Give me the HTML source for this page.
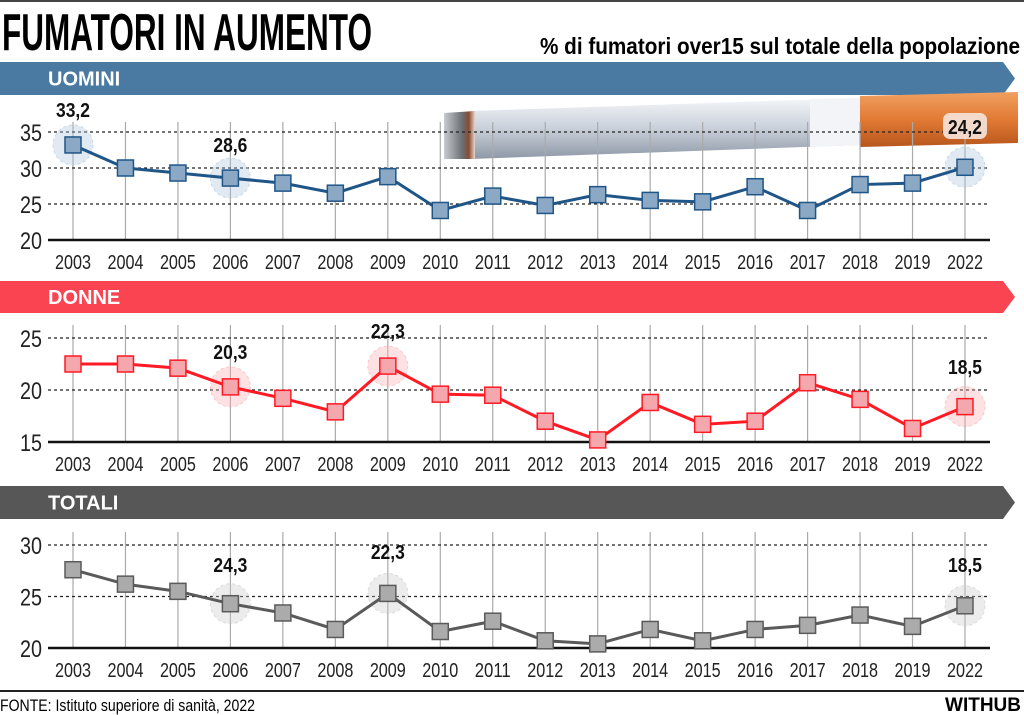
<!DOCTYPE html>
<html><head><meta charset="utf-8"><style>
body{margin:0;background:#fff;}
svg{display:block;font-family:"Liberation Sans",sans-serif;}
</style></head><body>
<svg id="c" width="1024" height="715" viewBox="0 0 1024 715">
<defs>
<linearGradient id="paper" x1="0" y1="0" x2="0" y2="1"><stop offset="0" stop-color="#f4f6f9"/><stop offset="0.5" stop-color="#c9d0da"/><stop offset="1" stop-color="#8e98a6"/></linearGradient>
<linearGradient id="filt" x1="0" y1="0" x2="0" y2="1"><stop offset="0" stop-color="#f0a060"/><stop offset="0.5" stop-color="#e27a34"/><stop offset="1" stop-color="#b8561c"/></linearGradient>
<linearGradient id="ash" x1="0" y1="0" x2="1" y2="0"><stop offset="0" stop-color="#c8ccd0"/><stop offset="0.6" stop-color="#6a6e72"/><stop offset="0.8" stop-color="#8a4a30"/><stop offset="1" stop-color="#e6d8d0"/></linearGradient>
</defs>
<line x1="0" y1="1" x2="1024" y2="1" stroke="#444" stroke-width="2"/>
<text x="2" y="50" font-size="52" font-weight="bold" textLength="370" lengthAdjust="spacingAndGlyphs">FUMATORI IN AUMENTO</text>
<text x="540" y="54" font-size="23" font-weight="bold" textLength="480" lengthAdjust="spacingAndGlyphs">% di fumatori over15 sul totale della popolazione</text>
<g id="panels"></g>
<line x1="0" y1="691" x2="1024" y2="691" stroke="#222" stroke-width="2"/>
<text x="0" y="711" font-size="17" textLength="255" lengthAdjust="spacingAndGlyphs">FONTE: Istituto superiore di sanità, 2022</text>
<text x="1021" y="711" text-anchor="end" font-size="19" font-weight="bold">WITHUB</text>
</svg>
<script>
const years = ["2003","2004","2005","2006","2007","2008","2009","2010","2011","2012","2013","2014","2015","2016","2017","2018","2019","2022"];
const uomini = [33.2,30.0,29.3,28.6,27.9,26.5,28.8,24.1,26.1,24.8,26.3,25.5,25.3,27.4,24.1,27.7,27.9,30.1];
const donne = [22.5,22.5,22.1,20.3,19.2,17.9,22.3,19.6,19.5,17.0,15.2,18.8,16.7,17.0,20.7,19.1,16.3,18.4];
const totali = [27.6,26.2,25.5,24.3,23.4,21.8,25.3,21.6,22.6,20.7,20.4,21.8,20.7,21.8,22.2,23.2,22.1,24.1];
const uominiTicks = [20,25,30,35];
const donneTicks = [15,20,25];
const totaliTicks = [20,25,30];
const uominiLabels = {0:"33,2",3:"28,6",17:"24,2"};
const donneLabels = {3:"20,3",6:"22,3",17:"18,5"};
const totaliLabels = {3:"24,3",6:"22,3",17:"18,5"};

const NS="http://www.w3.org/2000/svg";
const root=document.getElementById('panels');
function mk(tag,attrs,parent){const e=document.createElementNS(NS,tag);for(const k in attrs)e.setAttribute(k,attrs[k]);(parent||root).appendChild(e);return e;}
const xOf=i=>73+i*52.47;

function banner(y,h,color,label,name){
  const p=mk('path',{d:`M0 ${y} H1003 L1015 ${y+h/2} L1003 ${y+h} H0 Z`,fill:color});
  
  
  const t=mk('text',{x:48,y:y+h/2+7,'font-size':20,'font-weight':'bold',fill:'#fff'});
  
  
  t.textContent=label;
}

function panel(cfg){
  const g=mk('g',{});
  
  
  const y=v=>cfg.base-(v-cfg.min)*cfg.k;
  years.forEach((yr,i)=>{
    const l=mk('line',{x1:xOf(i),x2:xOf(i),y1:cfg.top,y2:cfg.base,stroke:'#aaa','stroke-width':1.2},g);
    
    
    const t=mk('text',{x:xOf(i)-18,y:cfg.base+29,'font-size':20,fill:'#222',textLength:36,lengthAdjust:'spacingAndGlyphs'},g);
    
    
    t.textContent=yr;
  });
  cfg.ticks.forEach((tv,j)=>{
    const yy=y(tv);
    if(j>0){const l=mk('line',{x1:48,x2:990,y1:yy,y2:yy,stroke:'#222','stroke-width':1.2,'stroke-dasharray':'3,3'},g);
      
      }
    const t=mk('text',{x:20,y:yy+9,'font-size':24,fill:'#222',textLength:22,lengthAdjust:'spacingAndGlyphs'},g);
    
    
    t.textContent=tv;
  });
  const b=mk('line',{x1:48,x2:990,y1:cfg.base,y2:cfg.base,stroke:'#111','stroke-width':2.5},g);
  
  
  for(const k in cfg.labels){
    const i=+k;
    const c=mk('circle',{cx:xOf(i),cy:y(cfg.data[i]),r:20,fill:cfg.halo,'fill-opacity':0.35,stroke:cfg.halo,'stroke-dasharray':'3,3','stroke-opacity':0.6},g);
    
    
  }
  const pl=mk('polyline',{points:cfg.data.map((v,i)=>xOf(i)+','+y(v)).join(' '),fill:'none',stroke:cfg.line,'stroke-width':3},g);
  
  
  cfg.data.forEach((v,i)=>{
    const r=mk('rect',{x:xOf(i)-8,y:y(v)-8,width:16,height:16,fill:cfg.mark,stroke:cfg.line,'stroke-width':1.5},g);
    
    
  });
  for(const k in cfg.labels){
    const i=+k;
    if(cfg.skip&&cfg.skip[i])continue;
    let ly=y(cfg.data[i])-28;
    if(cfg.fixedLabel&&cfg.fixedLabel[i])ly=cfg.fixedLabel[i];
    const t=mk('text',{x:xOf(i)-17,y:ly,'font-size':20,'font-weight':'bold',fill:'#111',textLength:34,lengthAdjust:'spacingAndGlyphs'},g);
    
    
    t.textContent=cfg.labels[k];
  }
}

banner(62,33,'#4a7aa1','UOMINI','uomini');
banner(281,32,'#fb4452','DONNE','donne');
banner(486,33,'#575757','TOTALI','totali');

const cig=mk('g',{});


mk('path',{d:'M470 111 L860 98 L860 145 L470 159 Z',fill:'url(#paper)'},cig);
mk('path',{d:'M810 99 L860 98 L860 145 L810 147 Z',fill:'#f2f4f7'},cig);
mk('path',{d:'M860 96 L1018 92 L1018 143 L860 147 Z',fill:'url(#filt)'},cig);
mk('path',{d:'M444 113 L475 111 L475 159 L444 159 Z',fill:'url(#ash)'},cig);

panel({name:'uomini',data:uomini,ticks:uominiTicks,labels:uominiLabels,base:240,min:20,k:7.2,top:122,line:'#1f5587',mark:'#8ba9c4',halo:'#aac4da',fixedLabel:{0:117,3:152},skip:{17:1}});
panel({name:'donne',data:donne,ticks:donneTicks,labels:donneLabels,base:442,min:15,k:10.4,top:325,line:'#ff1a24',mark:'#f5a7ae',halo:'#f8a8ae',fixedLabel:{17:374}});
panel({name:'totali',data:totali,ticks:totaliTicks,labels:totaliLabels,base:648,min:20,k:10.3,top:532,line:'#5a5a5a',mark:'#ababab',halo:'#c8c8c8',fixedLabel:{3:572,6:559,17:572}});

const pill=mk('rect',{x:xOf(17)-22,y:113,width:44,height:26,rx:7,fill:'#f6e4dc','fill-opacity':0.9});


const pt=mk('text',{x:xOf(17)-17,y:134,'font-size':20,'font-weight':'bold',fill:'#111',textLength:34,lengthAdjust:'spacingAndGlyphs'});


pt.textContent=uominiLabels[17];
</script>
</body></html>
